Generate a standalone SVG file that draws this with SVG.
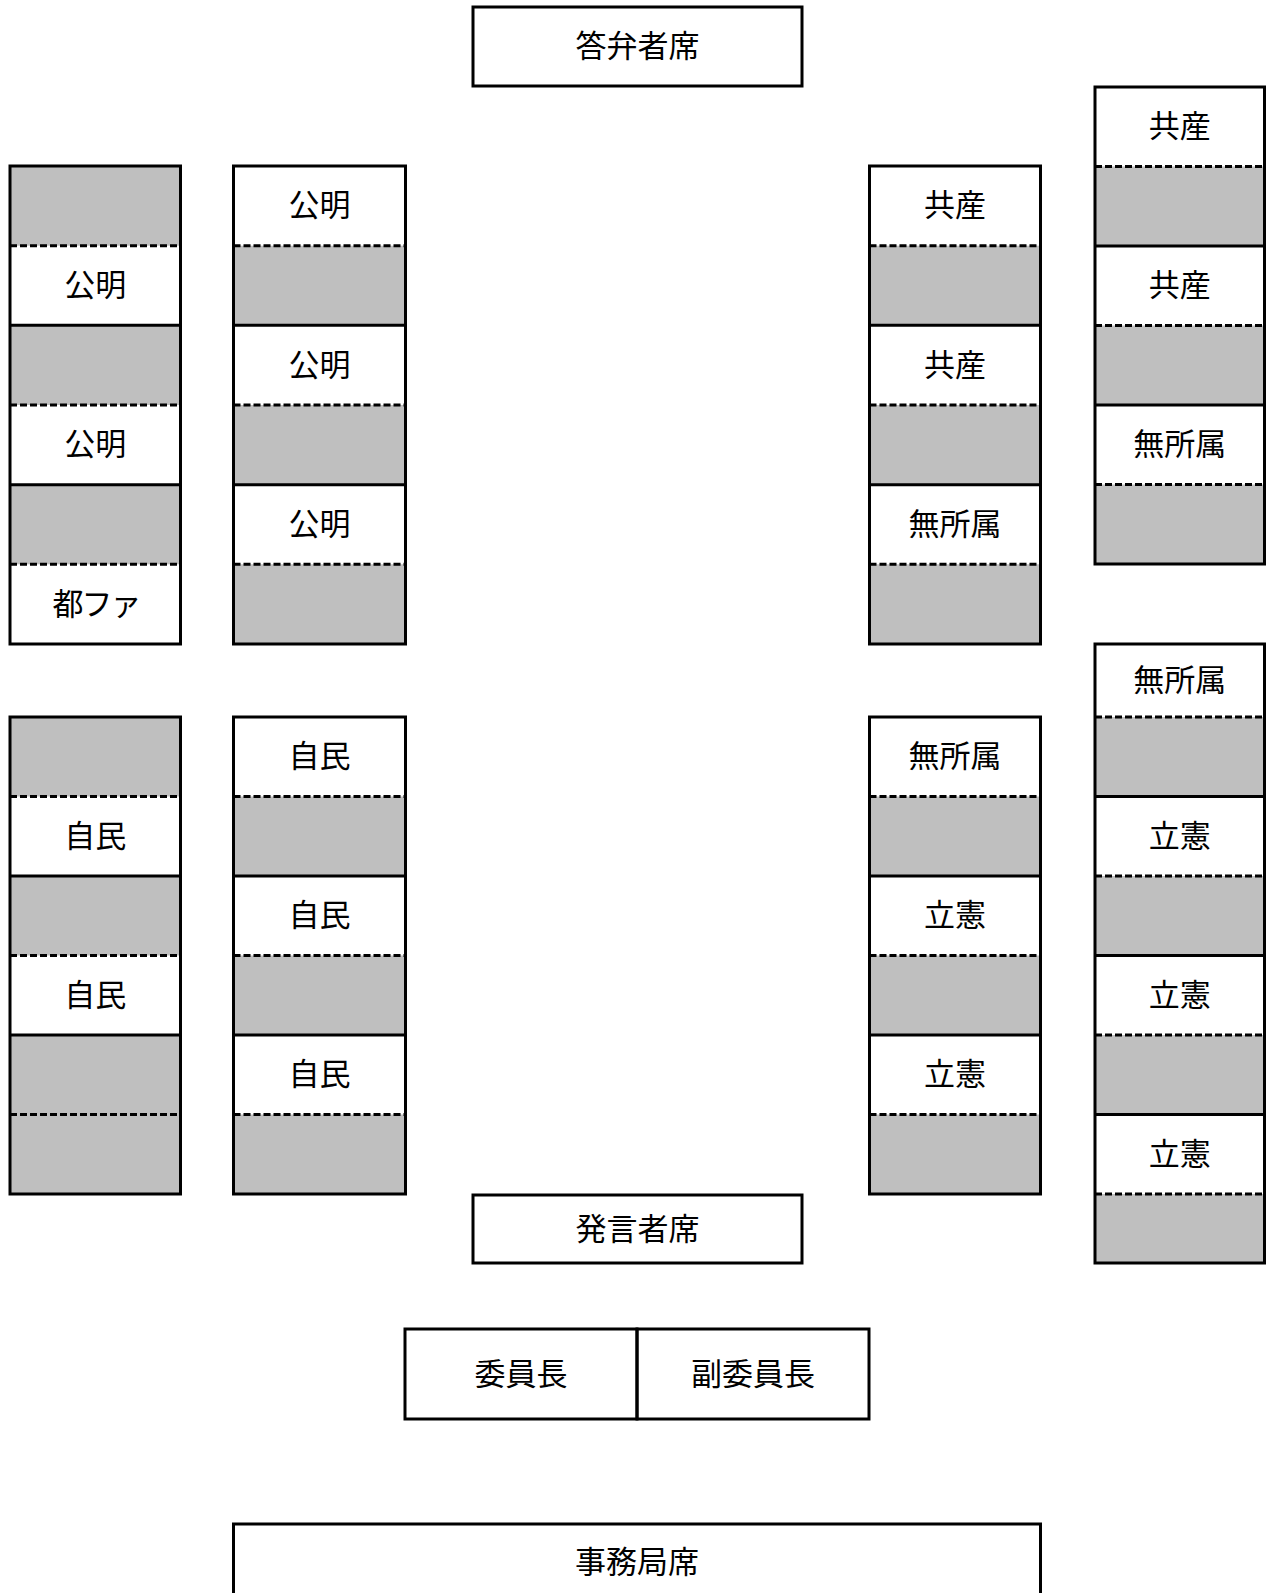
<svg xmlns="http://www.w3.org/2000/svg" width="1266" height="1593" viewBox="0 0 1266 1593">
<style>
.frame{fill:none;stroke:#000;stroke-width:3}
.gray{fill:#bfbfbf}
.solid{stroke:#000;stroke-width:3}
.dash{stroke:#000;stroke-width:3;stroke-dasharray:7 3}
.t{font-family:"Liberation Serif","Noto Sans CJK JP",serif;font-size:31px;text-anchor:middle;dominant-baseline:central;fill:#000}
.narrow{letter-spacing:-2px}
</style>
<rect x="0" y="0" width="1266" height="1593" fill="#ffffff"/>

<g id="answer-seat">
<rect class="frame" x="473" y="7" width="329" height="79" fill="#fff"/>
<text class="t" x="637.5" y="46.5">答弁者席</text>
</g>

<!-- Upper left column A -->
<g id="colA-upper">
<rect class="gray" x="10" y="166" width="170.5" height="79.7"/>
<rect class="gray" x="10" y="325.3" width="170.5" height="79.7"/>
<rect class="gray" x="10" y="484.7" width="170.5" height="79.6"/>
<line class="dash" x1="10" y1="245.7" x2="180.5" y2="245.7"/>
<line class="solid" x1="10" y1="325.3" x2="180.5" y2="325.3"/>
<line class="dash" x1="10" y1="405" x2="180.5" y2="405"/>
<line class="solid" x1="10" y1="484.7" x2="180.5" y2="484.7"/>
<line class="dash" x1="10" y1="564.3" x2="180.5" y2="564.3"/>
<rect class="frame" x="10" y="166" width="170.5" height="478"/>
<text class="t" x="95.25" y="285.5">公明</text>
<text class="t" x="95.25" y="444.85">公明</text>
<text class="t narrow" x="96" y="604.15">都ファ</text>
</g>

<!-- Upper column B -->
<g id="colB-upper">
<rect class="gray" x="233.5" y="245.7" width="172" height="79.6"/>
<rect class="gray" x="233.5" y="405" width="172" height="79.7"/>
<rect class="gray" x="233.5" y="564.3" width="172" height="79.7"/>
<line class="dash" x1="233.5" y1="245.7" x2="405.5" y2="245.7"/>
<line class="solid" x1="233.5" y1="325.3" x2="405.5" y2="325.3"/>
<line class="dash" x1="233.5" y1="405" x2="405.5" y2="405"/>
<line class="solid" x1="233.5" y1="484.7" x2="405.5" y2="484.7"/>
<line class="dash" x1="233.5" y1="564.3" x2="405.5" y2="564.3"/>
<rect class="frame" x="233.5" y="166" width="172" height="478"/>
<text class="t" x="319.5" y="205.85">公明</text>
<text class="t" x="319.5" y="365.15">公明</text>
<text class="t" x="319.5" y="524.5">公明</text>
</g>

<!-- Upper column D -->
<g id="colD-upper">
<rect class="gray" x="869.5" y="245.7" width="171" height="79.6"/>
<rect class="gray" x="869.5" y="405" width="171" height="79.7"/>
<rect class="gray" x="869.5" y="564.3" width="171" height="79.7"/>
<line class="dash" x1="869.5" y1="245.7" x2="1040.5" y2="245.7"/>
<line class="solid" x1="869.5" y1="325.3" x2="1040.5" y2="325.3"/>
<line class="dash" x1="869.5" y1="405" x2="1040.5" y2="405"/>
<line class="solid" x1="869.5" y1="484.7" x2="1040.5" y2="484.7"/>
<line class="dash" x1="869.5" y1="564.3" x2="1040.5" y2="564.3"/>
<rect class="frame" x="869.5" y="166" width="171" height="478"/>
<text class="t" x="955" y="205.85">共産</text>
<text class="t" x="955" y="365.15">共産</text>
<text class="t" x="955" y="524.5">無所属</text>
</g>

<!-- Upper column E -->
<g id="colE-upper">
<rect class="gray" x="1095" y="166.5" width="169.5" height="79.5"/>
<rect class="gray" x="1095" y="325.5" width="169.5" height="79.5"/>
<rect class="gray" x="1095" y="484.5" width="169.5" height="79.5"/>
<line class="dash" x1="1095" y1="166.5" x2="1264.5" y2="166.5"/>
<line class="solid" x1="1095" y1="246" x2="1264.5" y2="246"/>
<line class="dash" x1="1095" y1="325.5" x2="1264.5" y2="325.5"/>
<line class="solid" x1="1095" y1="405" x2="1264.5" y2="405"/>
<line class="dash" x1="1095" y1="484.5" x2="1264.5" y2="484.5"/>
<rect class="frame" x="1095" y="87" width="169.5" height="477"/>
<text class="t" x="1179.75" y="126.75">共産</text>
<text class="t" x="1179.75" y="285.75">共産</text>
<text class="t" x="1179.75" y="444.75">無所属</text>
</g>

<!-- Lower column A -->
<g id="colA-lower">
<rect class="gray" x="10" y="717" width="170.5" height="79.5"/>
<rect class="gray" x="10" y="876" width="170.5" height="79.5"/>
<rect class="gray" x="10" y="1035" width="170.5" height="159"/>
<line class="dash" x1="10" y1="796.5" x2="180.5" y2="796.5"/>
<line class="solid" x1="10" y1="876" x2="180.5" y2="876"/>
<line class="dash" x1="10" y1="955.5" x2="180.5" y2="955.5"/>
<line class="solid" x1="10" y1="1035" x2="180.5" y2="1035"/>
<line class="dash" x1="10" y1="1114.5" x2="180.5" y2="1114.5"/>
<rect class="frame" x="10" y="717" width="170.5" height="477"/>
<text class="t" x="95.25" y="836.25">自民</text>
<text class="t" x="95.25" y="995.25">自民</text>
</g>

<!-- Lower column B -->
<g id="colB-lower">
<rect class="gray" x="233.5" y="796.5" width="172" height="79.5"/>
<rect class="gray" x="233.5" y="955.5" width="172" height="79.5"/>
<rect class="gray" x="233.5" y="1114.5" width="172" height="79.5"/>
<line class="dash" x1="233.5" y1="796.5" x2="405.5" y2="796.5"/>
<line class="solid" x1="233.5" y1="876" x2="405.5" y2="876"/>
<line class="dash" x1="233.5" y1="955.5" x2="405.5" y2="955.5"/>
<line class="solid" x1="233.5" y1="1035" x2="405.5" y2="1035"/>
<line class="dash" x1="233.5" y1="1114.5" x2="405.5" y2="1114.5"/>
<rect class="frame" x="233.5" y="717" width="172" height="477"/>
<text class="t" x="319.5" y="756.75">自民</text>
<text class="t" x="319.5" y="915.75">自民</text>
<text class="t" x="319.5" y="1074.75">自民</text>
</g>

<!-- Lower column D -->
<g id="colD-lower">
<rect class="gray" x="869.5" y="796.5" width="171" height="79.5"/>
<rect class="gray" x="869.5" y="955.5" width="171" height="79.5"/>
<rect class="gray" x="869.5" y="1114.5" width="171" height="79.5"/>
<line class="dash" x1="869.5" y1="796.5" x2="1040.5" y2="796.5"/>
<line class="solid" x1="869.5" y1="876" x2="1040.5" y2="876"/>
<line class="dash" x1="869.5" y1="955.5" x2="1040.5" y2="955.5"/>
<line class="solid" x1="869.5" y1="1035" x2="1040.5" y2="1035"/>
<line class="dash" x1="869.5" y1="1114.5" x2="1040.5" y2="1114.5"/>
<rect class="frame" x="869.5" y="717" width="171" height="477"/>
<text class="t" x="955" y="756.75">無所属</text>
<text class="t" x="955" y="915.75">立憲</text>
<text class="t" x="955" y="1074.75">立憲</text>
</g>

<!-- Lower column E -->
<g id="colE-lower">
<rect class="gray" x="1095" y="717" width="169.5" height="79.5"/>
<rect class="gray" x="1095" y="876" width="169.5" height="79.5"/>
<rect class="gray" x="1095" y="1035" width="169.5" height="79.5"/>
<rect class="gray" x="1095" y="1194" width="169.5" height="69"/>
<line class="dash" x1="1095" y1="717" x2="1264.5" y2="717"/>
<line class="solid" x1="1095" y1="796.5" x2="1264.5" y2="796.5"/>
<line class="dash" x1="1095" y1="876" x2="1264.5" y2="876"/>
<line class="solid" x1="1095" y1="955.5" x2="1264.5" y2="955.5"/>
<line class="dash" x1="1095" y1="1035" x2="1264.5" y2="1035"/>
<line class="solid" x1="1095" y1="1114.5" x2="1264.5" y2="1114.5"/>
<line class="dash" x1="1095" y1="1194" x2="1264.5" y2="1194"/>
<rect class="frame" x="1095" y="644" width="169.5" height="619"/>
<text class="t" x="1179.75" y="680.5">無所属</text>
<text class="t" x="1179.75" y="836.25">立憲</text>
<text class="t" x="1179.75" y="995.25">立憲</text>
<text class="t" x="1179.75" y="1154.25">立憲</text>
</g>

<g id="speaker-seat">
<rect class="frame" x="473" y="1195" width="329" height="68"/>
<text class="t" x="637.5" y="1229">発言者席</text>
</g>

<g id="chair-seat">
<rect class="frame" x="405" y="1329" width="232" height="90"/>
<text class="t" x="521" y="1374">委員長</text>
</g>

<g id="vice-chair-seat">
<rect class="frame" x="637" y="1329" width="232" height="90"/>
<text class="t" x="753" y="1374">副委員長</text>
</g>

<g id="secretariat-seat">
<rect class="frame" x="233.5" y="1524" width="807" height="100"/>
<text class="t" x="637" y="1562">事務局席</text>
</g>

<g id="connectors"></g>
</svg>
